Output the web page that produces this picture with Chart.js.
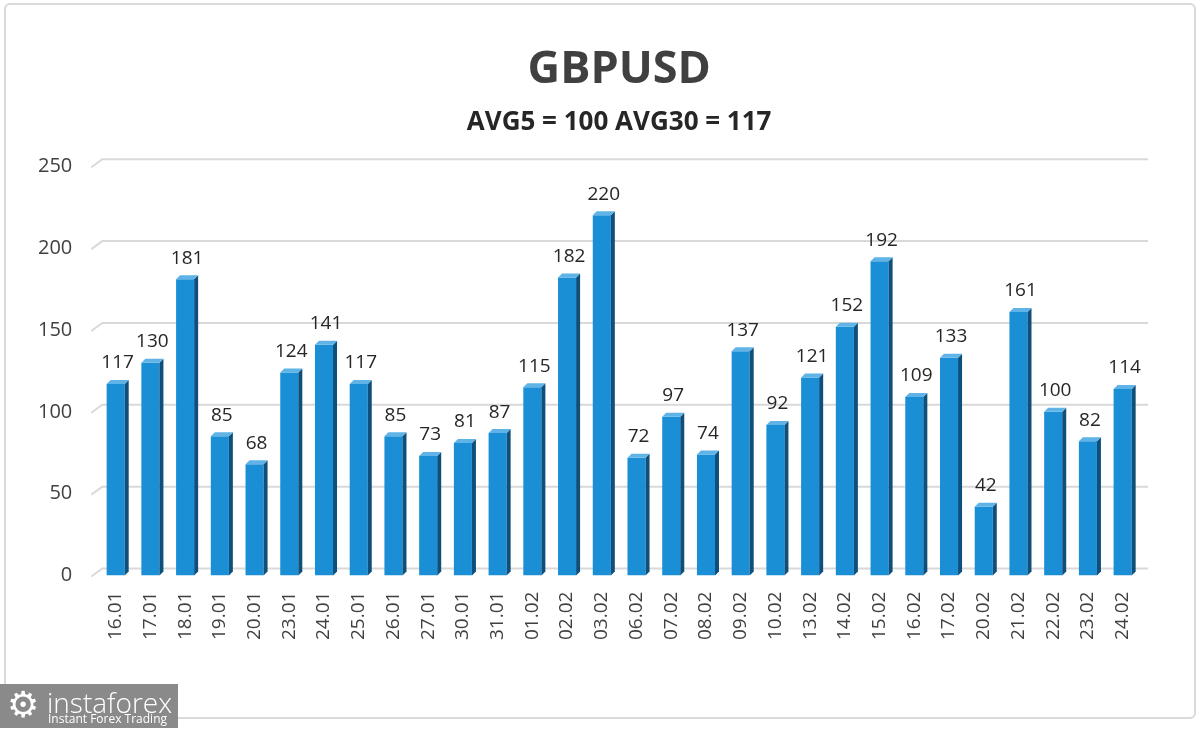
<!DOCTYPE html>
<html>
<head>
<meta charset="utf-8">
<script src="https://cdn.jsdelivr.net/npm/chart.js@4.4.0/dist/chart.umd.min.js"></script>
<style>
  html, body { margin: 0; padding: 0; background: #fff; }
  #wrap { position: relative; width: 1200px; height: 729px; overflow: hidden; }
  #frame { position: absolute; left: 4px; top: 3px; width: 1188px; height: 712px;
           border: 2px solid #d9d9d9; border-radius: 6px; }
  #chart { position: absolute; left: 0; top: 0; }
  #logo { position: absolute; left: 0; top: 684px; width: 178px; height: 44px; background: #8a8a8a;
          color: #fff; font-family: "Open Sans", sans-serif; }
  #logo .gear { position: absolute; left: 7px; top: 3px; font-size: 36px; line-height: 36px; font-family: "DejaVu Sans"; }
  #logo .name { position: absolute; left: 47px; top: -1px; font-size: 28px; font-weight: 300; }
  #logo .sub { position: absolute; left: 48px; top: 26px; font-size: 12px; }
</style>
</head>
<body>
<div id="wrap">
  <div id="frame"></div>
  <canvas id="chart" width="1200" height="729"></canvas>
  <div id="logo"><span class="gear">⚙</span><span class="name">instaforex</span><span class="sub">Instant Forex Trading</span></div>
</div>
<script>
const labels = ["16.01","17.01","18.01","19.01","20.01","23.01","24.01","25.01","26.01","27.01",
                "30.01","31.01","01.02","02.02","03.02","06.02","07.02","08.02","09.02","10.02",
                "13.02","14.02","15.02","16.02","17.02","20.02","21.02","22.02","23.02","24.02"];
const values = [117,130,181,85,68,124,141,117,85,73,
                81,87,115,182,220,72,97,74,137,92,
                121,152,192,109,133,42,161,100,82,114];
const titleText = "GBPUSD";
const subtitleText = "AVG5 = 100 AVG30 = 117";

// back-wall grid lines with a little slanted floor edge, like the 3D excel look
const wallGrid = {
  id: "wallGrid",
  beforeDatasetsDraw(chart) {
    const ctx = chart.ctx;
    const y = chart.scales.y;
    const area = chart.chartArea;
    ctx.save();
    ctx.strokeStyle = "#d9d9d9";
    ctx.lineWidth = 2;
    y.ticks.forEach(t => {
      const yp = y.getPixelForValue(t.value);
      ctx.beginPath();
      ctx.moveTo(area.left - 7, yp + 1);
      ctx.lineTo(area.left + 4, yp - 7);
      ctx.lineTo(area.right + 8, yp - 7);
      ctx.stroke();
    });
    ctx.restore();
  }
};

// fake 3D side/top faces plus value labels
const bar3d = {
  id: "bar3d",
  afterDatasetsDraw(chart) {
    const ctx = chart.ctx;
    const meta = chart.getDatasetMeta(0);
    const d = 4;
    ctx.save();
    meta.data.forEach((bar, i) => {
      const half = bar.width / 2;
      const l = bar.x - half, r = bar.x + half, t = bar.y, b = bar.base;
      ctx.fillStyle = "#0e4f7c";
      ctx.beginPath();
      ctx.moveTo(r, t); ctx.lineTo(r + d, t - d); ctx.lineTo(r + d, b - d); ctx.lineTo(r, b);
      ctx.closePath(); ctx.fill();
      ctx.fillStyle = "#5fb3e6";
      ctx.beginPath();
      ctx.moveTo(l, t); ctx.lineTo(l + d, t - d); ctx.lineTo(r + d, t - d); ctx.lineTo(r, t);
      ctx.closePath(); ctx.fill();
      ctx.fillStyle = "#262626";
      ctx.font = "19px 'Open Sans', sans-serif";
      ctx.textAlign = "center";
      ctx.textBaseline = "middle";
      ctx.fillText(values[i], bar.x + 2, t - 21);
    });
    ctx.restore();
  }
};

const ctx = document.getElementById("chart").getContext("2d");

new Chart(ctx, {
  type: "bar",
  data: {
    labels: labels,
    datasets: [{
      data: values,
      backgroundColor: function (c) {
        const bar = c.element;
        if (!bar || bar.x === undefined) return "#1a8fd6";
        const g = c.chart.ctx.createLinearGradient(bar.x - bar.width / 2, 0, bar.x + bar.width / 2, 0);
        g.addColorStop(0, "#35a3e2");
        g.addColorStop(0.5, "#1b93da");
        g.addColorStop(1, "#1480c4");
        return g;
      },
      barPercentage: 0.52,
      categoryPercentage: 1.0
    }]
  },
  options: {
    responsive: false,
    animation: false,
    layout: { padding: { top: 20, left: 20, right: 60, bottom: 81 } },
    plugins: {
      legend: { display: false },
      tooltip: { enabled: false },
      title: {
        display: true, text: titleText, color: "#404040", fullSize: false,
        font: { family: "'Open Sans', sans-serif", size: 45, weight: "bold" },
        padding: { top: 23, bottom: 0 }
      },
      subtitle: {
        display: true, text: subtitleText, color: "#262626", fullSize: false,
        font: { family: "'Open Sans', sans-serif", size: 26, weight: "bold" },
        padding: { top: 10, bottom: 28 }
      }
    },
    scales: {
      x: {
        grid: { display: false },
        border: { display: false },
        ticks: {
          color: "#404040", maxRotation: 90, minRotation: 90, padding: 8,
          font: { family: "'Open Sans', sans-serif", size: 19 }
        }
      },
      y: {
        min: 0, max: 250,
        grid: { display: false },
        border: { display: false },
        ticks: {
          stepSize: 50, color: "#404040", padding: 18,
          font: { family: "'Open Sans', sans-serif", size: 20 }
        }
      }
    }
  },
  plugins: [wallGrid, bar3d]
});
</script>
</body>
</html>
